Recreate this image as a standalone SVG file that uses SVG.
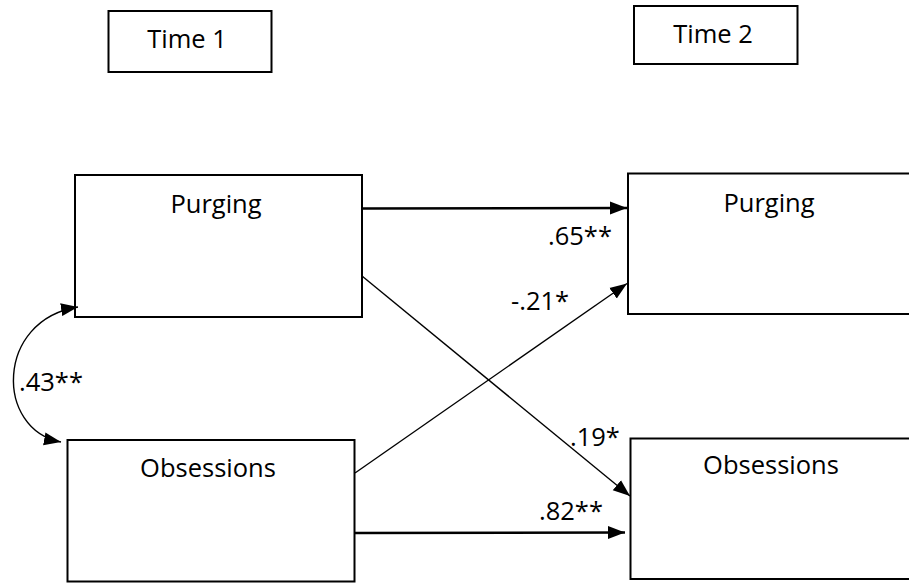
<svg xmlns="http://www.w3.org/2000/svg" width="909" height="583" viewBox="0 0 909 583">
<style>
.box{fill:#fff;stroke:#000;stroke-width:2}
.t{font-family:"Open Sans","Liberation Sans",sans-serif;font-size:25.5px;fill:#000;text-anchor:middle}
.l{font-family:"Open Sans","Liberation Sans",sans-serif;font-size:25.5px;fill:#000}
.thick{stroke:#000;stroke-width:2.4;fill:none}
.thin{stroke:#000;stroke-width:1.4;fill:none}
</style>
<defs>
<marker id="ah" markerUnits="userSpaceOnUse" markerWidth="18" markerHeight="14" refX="17" refY="7" orient="auto-start-reverse" viewBox="0 0 18 14">
<path d="M0,0.5 L17,7 L0,13.5 z" fill="#000"/>
</marker>
</defs>
<rect width="909" height="583" fill="#fff"/>
<g id="time1">
<rect class="box" x="108.5" y="11" width="163" height="61"/>
<text class="t" x="187" y="48">Time 1</text>
</g>
<g id="time2">
<rect class="box" x="634" y="6" width="163.5" height="58"/>
<text class="t" x="713" y="43">Time 2</text>
</g>
<g id="purging1">
<rect class="box" x="75" y="175" width="287" height="142"/>
<text class="t" x="216" y="213">Purging</text>
</g>
<g id="obsessions1">
<rect class="box" x="67.5" y="440" width="287" height="141.5"/>
<text class="t" x="208" y="477">Obsessions</text>
</g>
<g id="purging2">
<rect class="box" x="628" y="173.5" width="290" height="140.5"/>
<text class="t" x="769" y="212">Purging</text>
</g>
<g id="obsessions2">
<rect class="box" x="630.5" y="438.5" width="290" height="140.5"/>
<text class="t" x="771" y="474">Obsessions</text>
</g>
<g id="connectors">
<line class="thick" x1="363" y1="208.5" x2="627" y2="208" marker-end="url(#ah)"/>
<line class="thick" x1="355" y1="533" x2="625" y2="532.5" marker-end="url(#ah)"/>
<line class="thin" x1="362" y1="276" x2="630" y2="496" marker-end="url(#ah)"/>
<line class="thin" x1="355" y1="473" x2="627" y2="283.5" marker-end="url(#ah)"/>
<path class="thin" d="M78,307 C-5,320 -5,430 61,442" marker-start="url(#ah)" marker-end="url(#ah)"/>
<text class="l" x="548" y="245">.65**</text>
<text class="l" x="511" y="310">-.21*</text>
<text class="l" x="570" y="446">.19*</text>
<text class="l" x="539" y="520">.82**</text>
<text class="l" x="19" y="391">.43**</text>
</g>
</svg>
